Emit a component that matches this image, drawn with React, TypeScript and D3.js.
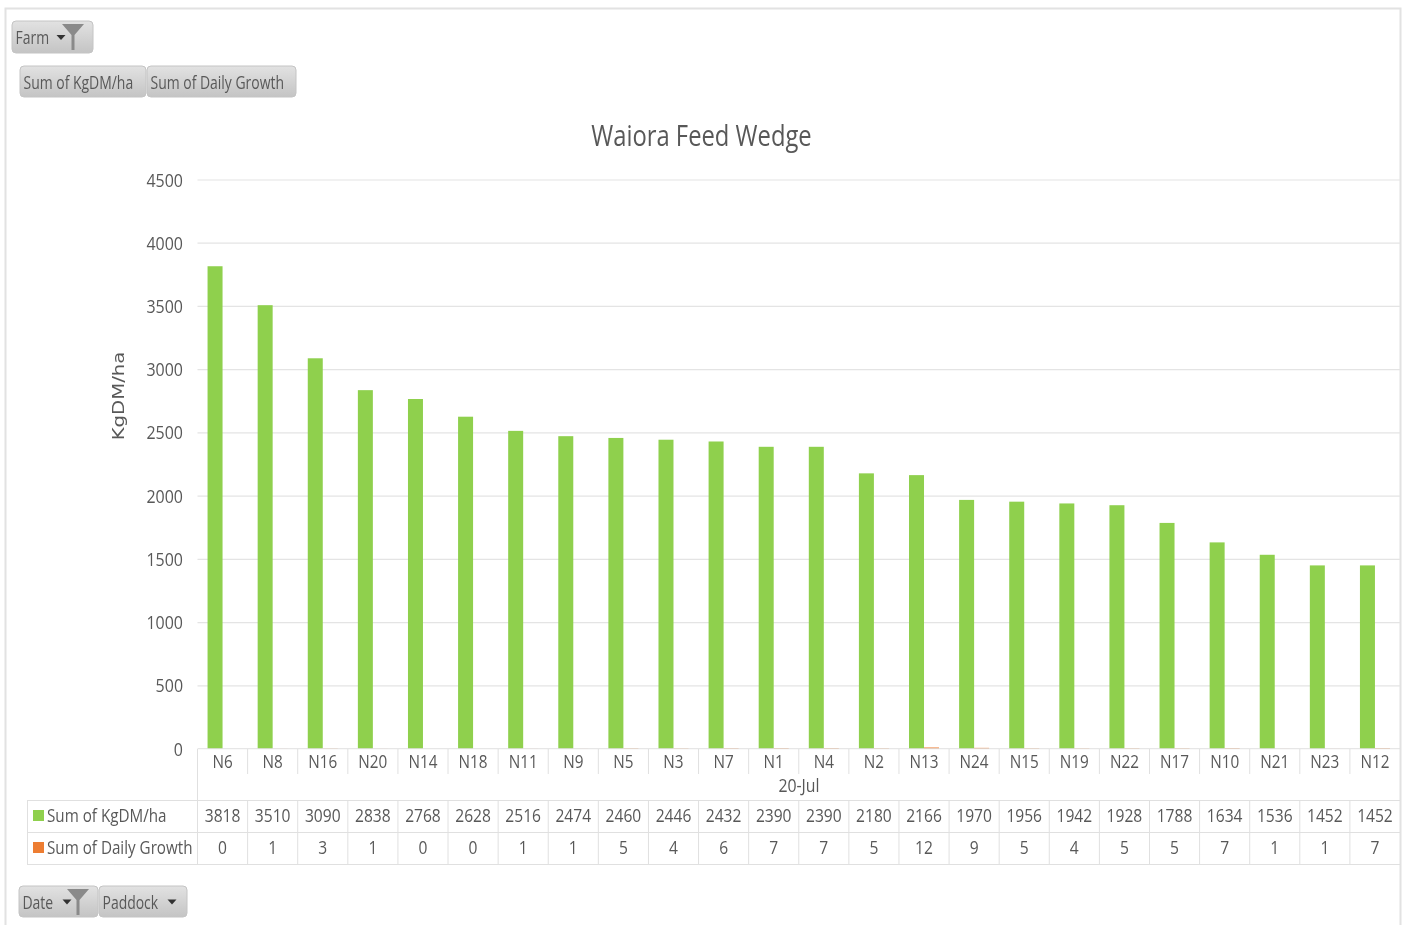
import React, { useEffect, useRef } from "react";
import * as d3 from "d3";

const paddocks = ["N6", "N8", "N16", "N20", "N14", "N18", "N11", "N9", "N5", "N3", "N7", "N1", "N4", "N2", "N13", "N24", "N15", "N19", "N22", "N17", "N10", "N21", "N23", "N12"];
const kgDmHa = [3818, 3510, 3090, 2838, 2768, 2628, 2516, 2474, 2460, 2446, 2432, 2390, 2390, 2180, 2166, 1970, 1956, 1942, 1928, 1788, 1634, 1536, 1452, 1452];
const dailyGrowth = [0, 1, 3, 1, 0, 0, 1, 1, 5, 4, 6, 7, 7, 5, 12, 9, 5, 4, 5, 5, 7, 1, 1, 7];
const yTicks = [0, 500, 1000, 1500, 2000, 2500, 3000, 3500, 4000, 4500];

const GREEN = "#8fd04e";
const ORANGE = "#ed7d31";
const TEXT = "#595959";
const FONT = "'Open Sans', sans-serif";

const width = 1409;
const height = 925;
const plot = { left: 197.5, right: 1400, top: 180, bottom: 749 };

type Pill = { label: string; x: number; y: number; w: number; h: number; arrow?: number; funnel?: number };

const pills: Pill[] = [
  { label: "Farm", x: 12, y: 21, w: 81, h: 32, arrow: 61, funnel: 73 },
  { label: "Sum of KgDM/ha", x: 20, y: 66, w: 126, h: 31 },
  { label: "Sum of Daily Growth", x: 147, y: 66, w: 149, h: 31 },
  { label: "Date", x: 19, y: 886, w: 79, h: 31, arrow: 67, funnel: 78 },
  { label: "Paddock", x: 99, y: 886, w: 88, h: 31, arrow: 172 },
];

// the original font is a narrow one, so squeeze the text to its width
function squeeze(sel: any, factor: number) {
  sel.each(function (this: SVGTextElement) {
    this.setAttribute("textLength", String(this.getComputedTextLength() * factor));
    this.setAttribute("lengthAdjust", "spacingAndGlyphs");
  });
}

export default function App() {
  const svgRef = useRef<SVGSVGElement | null>(null);

  useEffect(() => {
    const root = d3.select(svgRef.current);
    root.selectAll("*").remove();

    const defs = root.append("defs");
    const grad = defs.append("linearGradient").attr("id", "pill").attr("x1", 0).attr("x2", 0).attr("y1", 0).attr("y2", 1);
    grad.append("stop").attr("offset", "0%").attr("stop-color", "#e2e2e2");
    grad.append("stop").attr("offset", "100%").attr("stop-color", "#c4c4c4");
    defs.append("filter").attr("id", "soft")
      .attr("x", 0).attr("y", 0).attr("width", 1).attr("height", 1)
      .append("feGaussianBlur").attr("stdDeviation", 0.45);

    const svg = root.append("g").attr("filter", "url(#soft)");
    svg.append("rect").attr("width", width).attr("height", height).attr("fill", "#fff");

    // page frame
    svg.append("path")
      .attr("d", "M5.5,925V8.5H1400.5V925")
      .attr("fill", "none")
      .attr("stroke", "#e2e2e2")
      .attr("stroke-width", 2);

    const x = d3.scaleBand<string>().domain(paddocks).range([plot.left, plot.right]);
    const y = d3.scaleLinear().domain([0, 4500]).range([plot.bottom, plot.top]);
    const barW = 15;

    // y axis + gridlines
    const yAxis = svg.append("g")
      .attr("transform", `translate(${plot.left},0)`)
      .call(d3.axisLeft(y).tickValues(yTicks).tickSize(0).tickPadding(14.5).tickFormat(d3.format("d")) as any);
    yAxis.select(".domain").remove();
    yAxis.selectAll("text").attr("font-family", FONT).attr("font-size", 19).attr("fill", TEXT).call(squeeze, 0.84);

    svg.append("g").selectAll("line")
      .data(yTicks.filter((d) => d > 0))
      .join("line")
      .attr("x1", plot.left).attr("x2", plot.right)
      .attr("y1", (d) => y(d)).attr("y2", (d) => y(d))
      .attr("stroke", "#e4e4e4").attr("stroke-width", 1.2);

    // bars
    svg.append("g").selectAll("rect")
      .data(paddocks)
      .join("rect")
      .attr("x", (d) => (x(d) as number) + x.bandwidth() / 2 - barW)
      .attr("width", barW)
      .attr("y", (_, i) => y(kgDmHa[i]))
      .attr("height", (_, i) => plot.bottom - y(kgDmHa[i]))
      .attr("fill", GREEN);

    svg.append("g").selectAll("rect")
      .data(paddocks)
      .join("rect")
      .attr("x", (d) => (x(d) as number) + x.bandwidth() / 2)
      .attr("width", barW)
      .attr("y", (_, i) => y(dailyGrowth[i]))
      .attr("height", (_, i) => plot.bottom - y(dailyGrowth[i]))
      .attr("fill", ORANGE);

    // category axis, the baseline sits over the very short growth bars
    const rowTop = 800;
    const rowH = 32;
    const tableLeft = 27;
    const axisG = svg.append("g").attr("stroke", "#e0e0e0").attr("stroke-width", 1);
    axisG.append("line").attr("x1", plot.left).attr("x2", plot.right).attr("y1", plot.bottom - 0.3).attr("y2", plot.bottom - 0.3);
    axisG.append("line").attr("x1", plot.left).attr("x2", plot.left).attr("y1", plot.bottom).attr("y2", rowTop + rowH * 2);
    axisG.selectAll("line.tick")
      .data(paddocks.slice(1))
      .join("line")
      .attr("class", "tick")
      .attr("x1", (d) => x(d) as number).attr("x2", (d) => x(d) as number)
      .attr("y1", plot.bottom).attr("y2", 774);

    svg.append("g").selectAll("text")
      .data(paddocks)
      .join("text")
      .attr("x", (d) => (x(d) as number) + x.bandwidth() / 2)
      .attr("y", 768)
      .attr("text-anchor", "middle")
      .attr("font-family", FONT).attr("font-size", 18).attr("fill", TEXT)
      .text((d) => d)
      .call(squeeze, 0.85);

    svg.append("text")
      .attr("x", 799).attr("y", 792)
      .attr("text-anchor", "middle")
      .attr("font-family", FONT).attr("font-size", 18).attr("fill", TEXT)
      .text("20-Jul")
      .call(squeeze, 0.88);

    // data table
    const table = svg.append("g").attr("stroke", "#e0e0e0").attr("stroke-width", 1);
    [0, 1, 2].forEach((r) => {
      table.append("line")
        .attr("x1", tableLeft).attr("x2", plot.right)
        .attr("y1", rowTop + r * rowH + 0.5).attr("y2", rowTop + r * rowH + 0.5);
    });
    table.append("line").attr("x1", tableLeft + 0.5).attr("x2", tableLeft + 0.5).attr("y1", rowTop).attr("y2", rowTop + rowH * 2);
    table.selectAll("line.col")
      .data(paddocks.slice(1))
      .join("line")
      .attr("class", "col")
      .attr("x1", (d) => x(d) as number).attr("x2", (d) => x(d) as number)
      .attr("y1", rowTop).attr("y2", rowTop + rowH * 2);

    const rows = [
      { name: "Sum of KgDM/ha", values: kgDmHa, color: GREEN },
      { name: "Sum of Daily Growth", values: dailyGrowth, color: ORANGE },
    ];
    rows.forEach((row, r) => {
      const cy = rowTop + r * rowH + 16;
      svg.append("rect").attr("x", 33).attr("y", cy - 6).attr("width", 11).attr("height", 11).attr("fill", row.color);
      svg.append("text")
        .attr("x", 47).attr("y", cy + 6)
        .attr("font-family", FONT).attr("font-size", 19).attr("fill", TEXT)
        .text(row.name)
        .call(squeeze, 0.8);
      svg.append("g").selectAll("text")
        .data(paddocks)
        .join("text")
        .attr("x", (d) => (x(d) as number) + x.bandwidth() / 2)
        .attr("y", cy + 6)
        .attr("text-anchor", "middle")
        .attr("font-family", FONT).attr("font-size", 19).attr("fill", TEXT)
        .text((_, i) => row.values[i])
        .call(squeeze, 0.82);
    });

    // title and axis title
    svg.append("text")
      .attr("x", 701.5).attr("y", 146)
      .attr("text-anchor", "middle")
      .attr("font-family", FONT).attr("font-size", 29).attr("fill", TEXT)
      .text("Waiora Feed Wedge")
      .call(squeeze, 0.82);

    svg.append("text")
      .attr("transform", "translate(124,396) rotate(-90)")
      .attr("text-anchor", "middle")
      .attr("font-family", "'DejaVu Sans', sans-serif").attr("font-size", 15.5).attr("fill", TEXT)
      .text("KgDM/ha")
      .call(squeeze, 1.27);

    // field buttons
    pills.forEach((p) => {
      const g = svg.append("g");
      g.append("rect")
        .attr("x", p.x).attr("y", p.y).attr("width", p.w).attr("height", p.h).attr("rx", 4)
        .attr("fill", "url(#pill)").attr("stroke", "#c4c4c4");
      g.append("text")
        .attr("x", p.x + 3.5).attr("y", p.y + p.h / 2 + 7)
        .attr("font-family", FONT).attr("font-size", 18).attr("fill", TEXT)
        .text(p.label)
        .call(squeeze, 0.775);
      if (p.arrow !== undefined) {
        const my = p.y + p.h / 2;
        g.append("path")
          .attr("d", d3.line()([[p.arrow - 4.5, my - 2], [p.arrow + 4.5, my - 2], [p.arrow, my + 3]]) + "Z")
          .attr("fill", "#333");
      }
      if (p.funnel !== undefined) {
        const t = p.y + 3;
        const f = p.funnel;
        g.append("path")
          .attr("d", d3.line()([[f - 11, t], [f + 11, t], [f + 1.5, t + 11], [f + 1.5, t + 26], [f - 1.5, t + 26], [f - 1.5, t + 11]]) + "Z")
          .attr("fill", "#8a8a8a");
      }
    });
  }, []);

  return (
    <svg
      ref={svgRef}
      width={width}
      height={height}
      style={{ position: "fixed", left: 0, top: 0, background: "#fff" }}
    />
  );
}
